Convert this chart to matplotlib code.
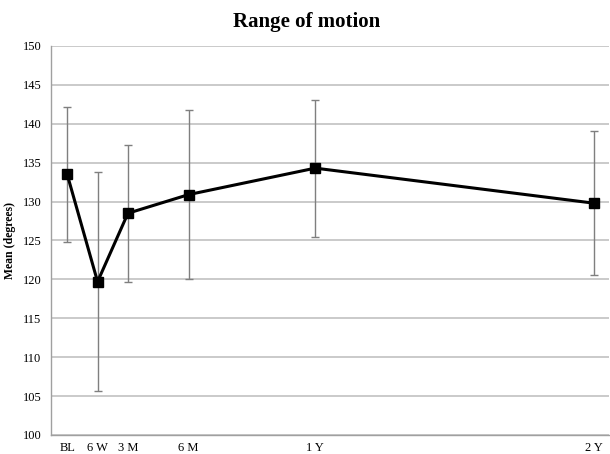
import numpy as np
import matplotlib
matplotlib.use("Agg")
import matplotlib.pyplot as plt

# time points (x position in weeks)
labels = ["BL", "6 W", "3 M", "6 M", "1 Y", "2 Y"]
weeks = [0, 6, 12, 24, 49, 104]
mean_rom = [133.5, 119.7, 128.5, 130.9, 134.3, 129.8]
sd_rom = [8.7, 14.1, 8.8, 10.9, 8.8, 9.3]

plt.rcParams['font.family'] = ['Liberation Serif', 'DejaVu Serif']

fig = plt.figure(figsize=(6.10, 4.54), dpi=100)
ax = fig.add_axes([0.0836, 0.0419, 0.9145, 0.8568])

ax.errorbar(weeks, mean_rom, yerr=sd_rom, fmt='none', ecolor='#7f7f7f',
            elinewidth=1.0, capsize=3, capthick=1.0, zorder=2)
ax.plot(weeks, mean_rom, color='black', lw=2.2, marker='s', ms=7,
        markerfacecolor='black', zorder=3)

ax.set_ylim(100, 150)
ax.set_yticks(np.arange(100, 151, 5))
ax.set_xlim(-3.2, 107)
ax.set_xticks(weeks)
ax.set_xticklabels(labels)
ax.yaxis.grid(True, color='#c6c6c6', lw=1.3)
ax.set_axisbelow(True)
ax.tick_params(axis='both', length=0, labelsize=9, pad=5)
ax.tick_params(axis='y', pad=7)

for s in ['top', 'right']:
    ax.spines[s].set_visible(False)
for s in ['left', 'bottom']:
    ax.spines[s].set_color('#a0a0a0')
    ax.spines[s].set_linewidth(1.0)

ax.set_ylabel("Mean (degrees)", fontsize=8.5, fontweight='bold', labelpad=5)
fig.text(0.503, 0.952, "Range of motion", ha='center', va='center',
         fontsize=15, fontweight='bold')

fig.savefig("out.png", dpi=100)
